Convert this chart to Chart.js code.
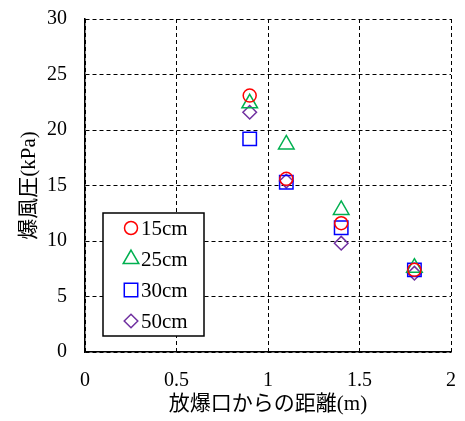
<!DOCTYPE html>
<html>
<head>
<meta charset="utf-8">
<script src="https://cdn.jsdelivr.net/npm/chart.js@4/dist/chart.umd.min.js"></script>
<style>
  html, body { margin: 0; padding: 0; background: #fff; }
  #wrap { width: 465px; height: 421px; }
</style>
</head>
<body>
<div id="wrap"><canvas id="myChart" width="465" height="421"></canvas></div>
<script>
// distance from blast opening (m)
const distances = [0.9, 1.1, 1.4, 1.8];

// blast pressure (kPa) per series
const series15 = [23.1, 15.6, 11.6, 7.4];
const series25 = [22.4, 18.7, 12.8, 7.6];
const series30 = [19.2, 15.3, 11.2, 7.4];
const series50 = [21.6, 15.4, 9.8, 7.1];

const seriesLabels = ['15cm', '25cm', '30cm', '50cm'];
const xTicks = [0, 0.5, 1, 1.5, 2];
const yTicks = [0, 5, 10, 15, 20, 25, 30];

const serif = '"Liberation Serif", "Times New Roman", "Noto Sans CJK JP", serif';

function toPoints(values) {
  return distances.map((d, i) => ({ x: d, y: values[i] }));
}

const styles = [
  { color: '#FF0000', shape: 'circle', radius: 6.5 },
  { color: '#00B050', shape: 'triangle', radius: 9 },
  { color: '#0000FF', shape: 'rect', radius: 9.5 },
  { color: '#7030A0', shape: 'rectRot', radius: 6.8 }
];

const allSeries = [series15, series25, series30, series50];

const datasets = allSeries.map((vals, i) => ({
  label: seriesLabels[i],
  data: toPoints(vals),
  showLine: false,
  pointStyle: styles[i].shape,
  pointRadius: styles[i].radius,
  pointHoverRadius: styles[i].radius,
  borderColor: styles[i].color,
  backgroundColor: 'rgba(0,0,0,0)',
  pointBorderWidth: 1.5
}));

// legend box drawn inside the plot area
const boxLegend = {
  id: 'boxLegend',
  afterDraw(chart) {
    const ctx = chart.ctx;
    const area = chart.chartArea;
    const left = area.left + 18;
    const top = area.top + 194;
    const w = 101;
    const h = 123;
    ctx.save();
    ctx.fillStyle = '#fff';
    ctx.fillRect(left, top, w, h);
    ctx.strokeStyle = '#000';
    ctx.lineWidth = 1.5;
    ctx.strokeRect(left, top, w, h);
    ctx.font = '21px ' + serif;
    ctx.textBaseline = 'middle';
    seriesLabels.forEach((lbl, i) => {
      const y = top + 15 + i * 31;
      ctx.strokeStyle = styles[i].color;
      ctx.fillStyle = 'rgba(0,0,0,0)';
      ctx.lineWidth = 1.5;
      Chart.helpers.drawPoint(ctx, { pointStyle: styles[i].shape, radius: styles[i].radius, rotation: 0, borderWidth: 1.5 }, left + 28, y);
      ctx.fillStyle = '#000';
      ctx.fillText(lbl, left + 38, y + 1);
    });
    ctx.restore();
  }
};

new Chart(document.getElementById('myChart').getContext('2d'), {
  type: 'scatter',
  data: { datasets: datasets },
  options: {
    responsive: false,
    animation: false,
    layout: { padding: { top: 19, right: 14, left: 0, bottom: 0 } },
    plugins: {
      legend: { display: false },
      tooltip: { enabled: false }
    },
    scales: {
      x: {
        type: 'linear',
        min: 0,
        max: 2,
        afterBuildTicks: (scale) => { scale.ticks = xTicks.map(v => ({ value: v })); },
        afterFit: (scale) => {
          scale.height = 69;
          scale.paddingLeft = 0;
          scale.paddingRight = 0;
        },
        grid: { color: '#000', lineWidth: 1, drawTicks: false },
        border: { display: true, color: '#000', width: 1.5, dash: [4, 3] },
        ticks: {
          color: '#000',
          padding: 17,
          font: { family: serif, size: 20 },
          maxRotation: 0,
          callback: (v) => String(v)
        },
        title: {
          display: true,
          text: '放爆口からの距離(m)',
          color: '#000',
          font: { family: serif, size: 21 },
          padding: { top: 4 }
        }
      },
      y: {
        type: 'linear',
        min: 0,
        max: 30,
        afterBuildTicks: (scale) => { scale.ticks = yTicks.map(v => ({ value: v })); },
        afterFit: (scale) => {
          scale.width = 85;
          scale.paddingTop = 0;
          scale.paddingBottom = 0;
        },
        grid: { color: '#000', lineWidth: 1, drawTicks: false },
        border: { display: true, color: '#000', width: 1.5, dash: [4, 3] },
        ticks: {
          color: '#000',
          padding: 18,
          font: { family: serif, size: 20 },
          callback: (v) => String(v)
        },
        title: {
          display: true,
          text: '爆風圧(kPa)',
          color: '#000',
          font: { family: serif, size: 21 },
          padding: { top: 17, bottom: 0 }
        }
      }
    }
  },
  plugins: [boxLegend]
});
</script>
</body>
</html>
